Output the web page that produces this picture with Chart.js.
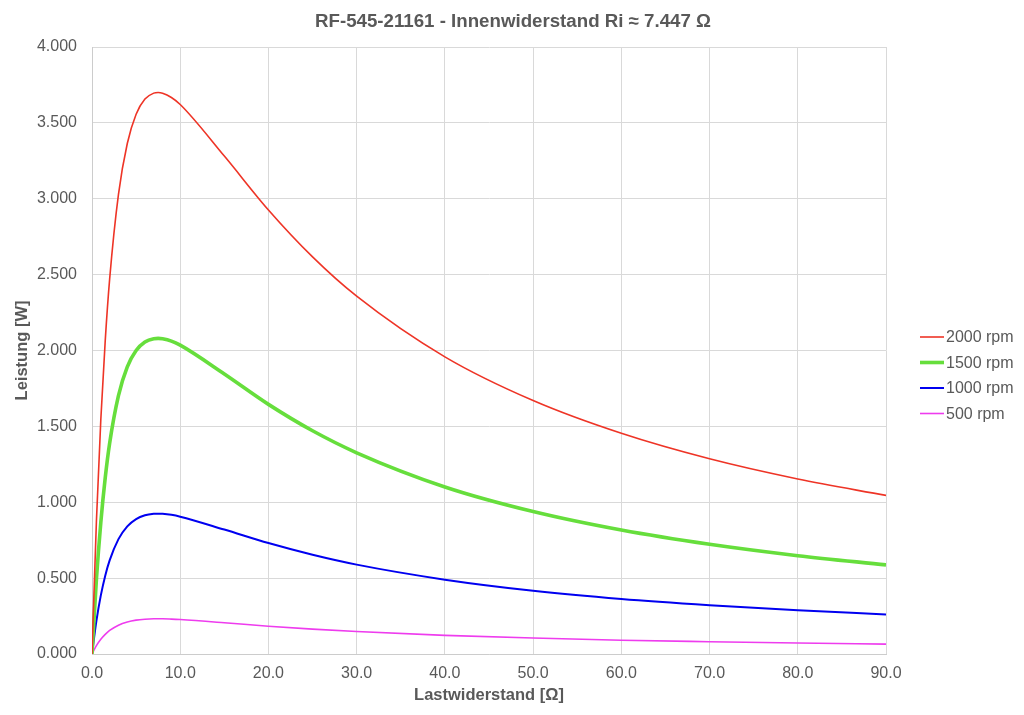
<!DOCTYPE html>
<html>
<head>
<meta charset="utf-8">
<script src="https://cdn.jsdelivr.net/npm/chart.js@4"></script>
<style>
html,body{margin:0;padding:0;background:#fff;}
#wrap{width:1024px;height:715px;position:relative;}
</style>
</head>
<body>
<div id="wrap"><canvas id="c" width="1024" height="715"></canvas></div>
<script>
const chartTitle = 'RF-545-21161 - Innenwiderstand Ri \u2248 7.447 \u03A9';
const xTitle = 'Lastwiderstand [\u03A9]';
const yTitle = 'Leistung [W]';
const resistance = [0,0.5,1,1.5,2,3,4,5,6,7,7.5,8,9,10,15,20,25,30,40,50,60,70,80,90];
const rpm2000 = [0,0.873,1.545,2.065,2.470,3.029,3.364,3.557,3.657,3.696,3.700,3.695,3.667,3.621,3.281,2.926,2.617,2.358,1.958,1.670,1.454,1.286,1.153,1.045];
const rpm1500 = [0,0.491,0.868,1.161,1.389,1.703,1.892,2.000,2.056,2.078,2.080,2.077,2.062,2.035,1.845,1.645,1.471,1.326,1.101,0.939,0.817,0.723,0.648,0.587];
const rpm1000 = [0,0.218,0.386,0.516,0.617,0.757,0.841,0.889,0.914,0.924,0.925,0.924,0.917,0.905,0.820,0.731,0.654,0.589,0.490,0.417,0.363,0.322,0.288,0.261];
const rpm500  = [0,0.055,0.097,0.129,0.155,0.190,0.211,0.223,0.229,0.232,0.232,0.232,0.230,0.227,0.206,0.183,0.164,0.148,0.123,0.105,0.091,0.081,0.072,0.065];
const seriesNames = ['2000 rpm','1500 rpm','1000 rpm','500 rpm'];
const seriesValues = [rpm2000, rpm1500, rpm1000, rpm500];
const seriesColors = ['rgb(238,52,38)','rgb(102,222,60)','rgb(0,0,240)','rgb(238,60,238)'];
const seriesWidths = [1.6, 3.6, 2, 1.6];

const textColor = '#595959';
const FONT = '"Liberation Sans", Arial, Helvetica, sans-serif';

const datasets = seriesNames.map((n,i)=>({
  label: n,
  data: resistance.map((x,j)=>({x:x, y:seriesValues[i][j]})),
  borderColor: seriesColors[i],
  backgroundColor: seriesColors[i],
  borderWidth: seriesWidths[i],
  pointRadius: 0,
  cubicInterpolationMode: 'monotone',
  fill: false
}));

const overlay = {
  id: 'overlay',
  afterDraw(chart){
    const ctx = chart.ctx;
    ctx.save();
    ctx.fillStyle = textColor;
    ctx.font = 'bold 18.7px ' + FONT;
    ctx.textAlign = 'center';
    ctx.textBaseline = 'alphabetic';
    ctx.fillText(chartTitle, 513, 27);
    ctx.font = '16px ' + FONT;
    ctx.textAlign = 'left';
    ctx.textBaseline = 'middle';
    const ys = [337, 362.5, 388, 413.5];
    chart.data.datasets.forEach((ds,i)=>{
      const y = ys[i];
      ctx.strokeStyle = ds.borderColor;
      ctx.lineWidth = ds.borderWidth;
      ctx.beginPath();
      ctx.moveTo(920, y);
      ctx.lineTo(944, y);
      ctx.stroke();
      ctx.fillStyle = textColor;
      ctx.fillText(ds.label, 946, y + 1);
    });
    ctx.restore();
  }
};

new Chart(document.getElementById('c'), {
  type: 'line',
  data: { datasets },
  options: {
    responsive: false,
    animation: false,
    devicePixelRatio: 1,
    layout: { padding: { top: 47, right: 138, left: 0, bottom: 0 } },
    plugins: { legend: { display: false }, title: { display: false }, tooltip: { enabled: false } },
    scales: {
      x: {
        type: 'linear', min: 0, max: 90,
        ticks: { stepSize: 10, padding: 10, color: textColor, font: { family: FONT, size: 16 },
          callback: v => Number(v).toFixed(1), maxRotation: 0, autoSkip: false },
        grid: { color: '#d9d9d9', drawTicks: false },
        border: { color: '#cccccc' },
        title: { display: true, text: xTitle, color: textColor, font: { family: FONT, size: 16.5, weight: 'bold' }, padding: { top: 0, bottom: 10 } },
        afterFit: s => { s.height = 61; }
      },
      y: {
        type: 'linear', min: 0, max: 4,
        ticks: { stepSize: 0.5, padding: 15, color: textColor, font: { family: FONT, size: 16 },
          callback: v => Number(v).toFixed(3) },
        grid: { color: '#d9d9d9', drawTicks: false },
        border: { color: '#cccccc' },
        title: { display: true, text: yTitle, color: textColor, font: { family: FONT, size: 16.5, weight: 'bold' }, padding: { top: 13, bottom: 0 } },
        afterFit: s => { s.width = 92; }
      }
    }
  },
  plugins: [overlay]
});
</script>
</body>
</html>
